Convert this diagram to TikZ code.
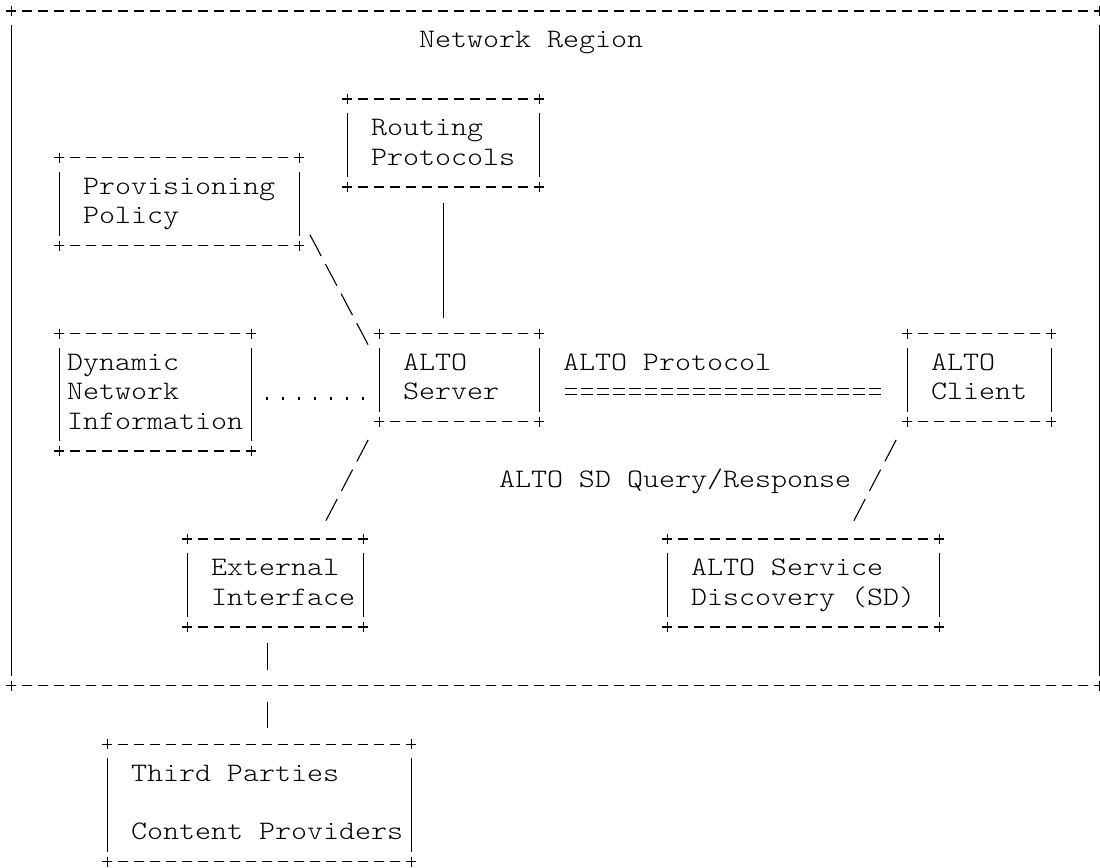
\documentclass[tikz,border=0pt]{standalone}
\usepackage{fontspec}
\setmonofont{lmmonolt10-regular.otf}[FakeStretch=1.143,WordSpace={1,0,0}]
\usepackage{tikz}
\newcommand{\rowstrut}{\rule[-7.27pt]{0pt}{29.333pt}}

\begin{document}
\begin{tikzpicture}[x=16pt,y=-29.333pt,
  every node/.style={font=\fontsize{26.67pt}{29.333pt}\selectfont\ttfamily,inner sep=0pt,outer sep=0pt,
    execute at begin node={\spaceskip=0pt\xspaceskip=0pt\rowstrut},execute at end node=\rowstrut},
  hdash/.style={line width=1.2pt,dash pattern=on 10pt off 6pt},
  vline/.style={line width=1pt,shorten <=14pt,shorten >=10pt},
  corner/.style={line width=1pt},
  box node/.style={inner xsep=24pt,inner ysep=0pt,align=left,
    append after command={
      ([xshift=-5pt]\tikzlastnode.north west) edge[hdash] ([xshift=5pt]\tikzlastnode.north east)
      ([xshift=-5pt]\tikzlastnode.south west) edge[hdash] ([xshift=5pt]\tikzlastnode.south east)
      (\tikzlastnode.north west) edge[vline] (\tikzlastnode.south west)
      (\tikzlastnode.north east) edge[vline] (\tikzlastnode.south east)
      ([yshift=5pt]\tikzlastnode.north west) edge[corner] ([yshift=-5pt]\tikzlastnode.north west)
      ([yshift=5pt]\tikzlastnode.north east) edge[corner] ([yshift=-5pt]\tikzlastnode.north east)
      ([yshift=5pt]\tikzlastnode.south west) edge[corner] ([yshift=-5pt]\tikzlastnode.south west)
      ([yshift=5pt]\tikzlastnode.south east) edge[corner] ([yshift=-5pt]\tikzlastnode.south east)}},
  region node/.style={box node,minimum width=1088pt,minimum height=674.67pt},
  text node/.style={anchor=west},
  bar/.style={line width=1pt,shorten <=16pt,shorten >=16pt},
  slash/.style={line width=1.1pt,dash pattern=on 24.2pt off 9.2pt},
  dots/.style={line width=2.6pt,shorten <=8pt,shorten >=8pt,dash pattern=on 2.6pt off 13.4pt,dash phase=9.3pt},
  proto/.style={double,line width=1.3pt,double distance=4.4pt,dash pattern=on 12.5pt off 3.5pt}]
  \useasboundingbox (-0.6875,-0.375) rectangle (68.0625,29.216);
  \node[region node] (net) at (34,11.5) {};
  \node[text node] (netname) at (25.5,1) {Network Region};

  \node[box node,text width=144pt,minimum height=88pt] (route) at (27,4.5) {Routing\\Protocols};
  \node[box node,text width=192pt,minimum height=88pt] (prov) at (10.5,6.5) {Provisioning\\Policy};
  \node[box node,inner xsep=8pt,text width=176pt,minimum height=117.33pt] (dyn) at (9,13) {Dynamic\\Network\\Information};
  \node[box node,text width=112pt,minimum height=88pt] (server) at (28,12.5) {ALTO\\Server};
  \node[box node,text width=96pt,minimum height=88pt] (client) at (60.5,12.5) {ALTO\\Client};
  \node[box node,text width=128pt,minimum height=88pt] (ext) at (16.5,19.5) {External\\Interface};
  \node[box node,text width=224pt,minimum height=88pt] (sd) at (49.5,19.5) {ALTO~Service\\Discovery~(SD)};
  \node[box node,text width=256pt,minimum height=117.33pt] (third) at (15.5,27) {Third~Parties\\\mbox{}\\Content~Providers};

  \node[text node] (protoname) at (34.5,12) {ALTO Protocol};
  \node[text node] (sdname) at (30.5,16) {ALTO SD Query/Response};

  \path
    ([shift={(10.9pt,11pt)}]prov.south east) edge[slash] ([shift={(-10.9pt,-11pt)}]server.north west)
    (route.south) edge[bar] (route.south |- server.north)
    ([yshift=-6pt]dyn.east) edge[dots] ([yshift=-6pt]server.west |- dyn.east)
    ([shift={(25.75pt,-14pt)}]server.east) edge[proto] ([shift={(-25.75pt,-14pt)}]client.west)
    ([shift={(-10.9pt,-18.33pt)}]server.south west) edge[slash] ([shift={(-37.1pt,18.33pt)}]ext.north east)
    ([shift={(-10.9pt,-18.33pt)}]client.south west) edge[slash] ([shift={(-85.1pt,18.33pt)}]sd.north east)
    ([xshift=-8pt]ext.south) edge[bar,dash pattern=on 26.7pt off 32pt] ([xshift=8pt]third.north);
\end{tikzpicture}
\end{document}
